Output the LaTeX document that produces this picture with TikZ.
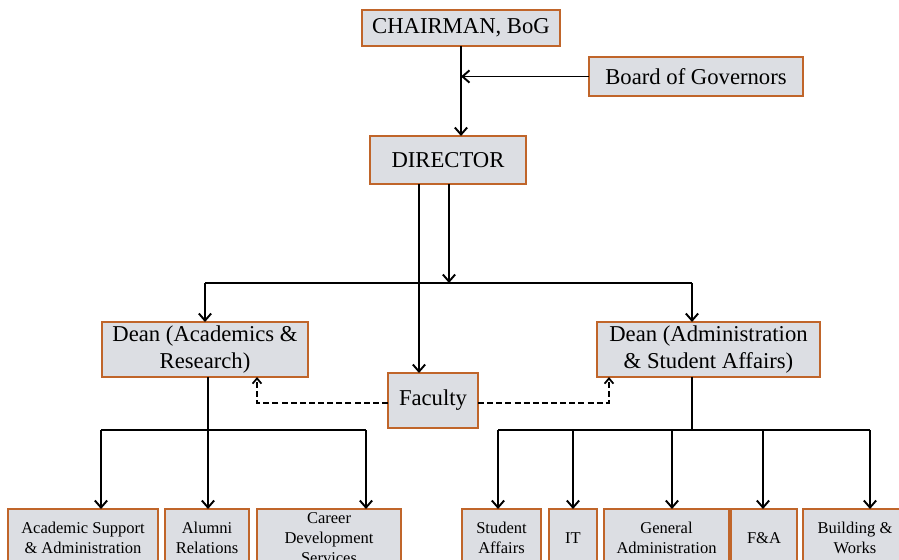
\documentclass[tikz,border=0pt]{standalone}
\usepackage{fontspec}
\setmainfont{Liberation Serif}
\usepackage{xcolor}
\usetikzlibrary{arrows.meta}
\definecolor{boxfill}{HTML}{DCDEE3}
\definecolor{boxline}{HTML}{C0652A}
\begin{document}
\begin{tikzpicture}[x=0.02cm,y=-0.02cm,>={Straight Barb[length=4pt,width=7pt,line width=1.1pt]}]
\tikzstyle{unit}=[draw=boxline,fill=boxfill,line width=1.1pt,inner sep=0pt,outer sep=0pt,align=center,font=\fontsize{12.9}{15.4}\selectfont]
\tikzstyle{subunit}=[unit,minimum height=1.16cm,font=\fontsize{9.4}{11.6}\selectfont]
\tikzstyle{con}=[black,line width=1.1pt]
\tikzstyle{dcon}=[black,line width=1.1pt,dash pattern=on 3.4pt off 1.8pt,>={Straight Barb[length=3pt,width=5pt,line width=1pt]}]
\useasboundingbox (0,0) rectangle (899,560);
\clip (0,0) rectangle (899,560);
\node[unit,minimum width=3.96cm,minimum height=0.72cm] (chair) at (461,28) {CHAIRMAN, BoG};
\node[unit,minimum width=4.28cm,minimum height=0.78cm] (bog) at (696,76.5) {Board of Governors};
\node[unit,minimum width=3.12cm,minimum height=0.96cm] (dir) at (448,160) {DIRECTOR};
\node[unit,minimum width=4.12cm,minimum height=1.1cm] (deanar) at (205,349.5) {Dean (Academics \&\\Research)};
\node[unit,minimum width=1.8cm,minimum height=1.1cm] (fac) at (433,400.5) {Faculty};
\node[unit,minimum width=4.46cm,minimum height=1.1cm] (deanas) at (708.5,349.5) {Dean (Administration\\\& Student Affairs)};
\node[subunit,minimum width=3.0cm] (acad) at (83,538) {Academic Support\\\& Administration};
\node[subunit,minimum width=1.68cm] (alum) at (207,538) {Alumni\\Relations};
\node[subunit,minimum width=2.88cm] (career) at (329,538) {Career\\Development\\Services};
\node[subunit,minimum width=1.58cm] (stud) at (501.5,538) {Student\\Affairs};
\node[subunit,minimum width=0.96cm] (it) at (573,538) {IT};
\node[subunit,minimum width=2.5cm] (gen) at (666.5,538) {General\\Administration};
\node[subunit,minimum width=1.32cm] (fa) at (764,538) {F\&A};
\node[subunit,minimum width=2.08cm] (bw) at (855,538) {Building \&\\Works};
\coordinate (dA) at (419,184);
\coordinate (dB) at (449,184);
\coordinate (busL) at (205,283);
\coordinate (busR) at (692,283);
\coordinate (dlft) at (257,377);
\coordinate (drgt) at (609,377);
\coordinate (lbus) at (208,430);
\coordinate (lbusA) at (101,430);
\coordinate (lbusC) at (366,430);
\coordinate (rbus) at (692,430);
\coordinate (rbusA) at (498,430);
\coordinate (rbusB) at (573,430);
\coordinate (rbusC) at (672,430);
\coordinate (rbusD) at (763,430);
\coordinate (rbusE) at (870,430);
\draw[con,->] (chair.south) -- (chair.south |- dir.north);
\draw[con,->] (bog.west) -- (bog.west -| chair.south);
\draw[con,->] (dA) -- (dA |- fac.north);
\draw[con,->] (dB) -- (dB |- busL);
\draw[con] (busL) -- (busR);
\draw[con,->] (busL) -- (busL |- deanar.north);
\draw[con,->] (busR) -- (busR |- deanas.north);
\draw[dcon,->] ([yshift=-1.4pt]fac.west) -| (dlft);
\draw[dcon,->] ([yshift=-1.4pt]fac.east) -| (drgt);
\draw[con] (deanar.south -| lbus) -- (lbus);
\draw[con] (lbusA) -- (lbusC);
\draw[con,->] (lbusA) -- (lbusA |- acad.north);
\draw[con,->] (lbus) -- (lbus |- alum.north);
\draw[con,->] (lbusC) -- (lbusC |- career.north);
\draw[con] (deanas.south -| rbus) -- (rbus);
\draw[con] (rbusA) -- (rbusE);
\draw[con,->] (rbusA) -- (rbusA |- stud.north);
\draw[con,->] (rbusB) -- (rbusB |- it.north);
\draw[con,->] (rbusC) -- (rbusC |- gen.north);
\draw[con,->] (rbusD) -- (rbusD |- fa.north);
\draw[con,->] (rbusE) -- (rbusE |- bw.north);
\end{tikzpicture}
\end{document}
